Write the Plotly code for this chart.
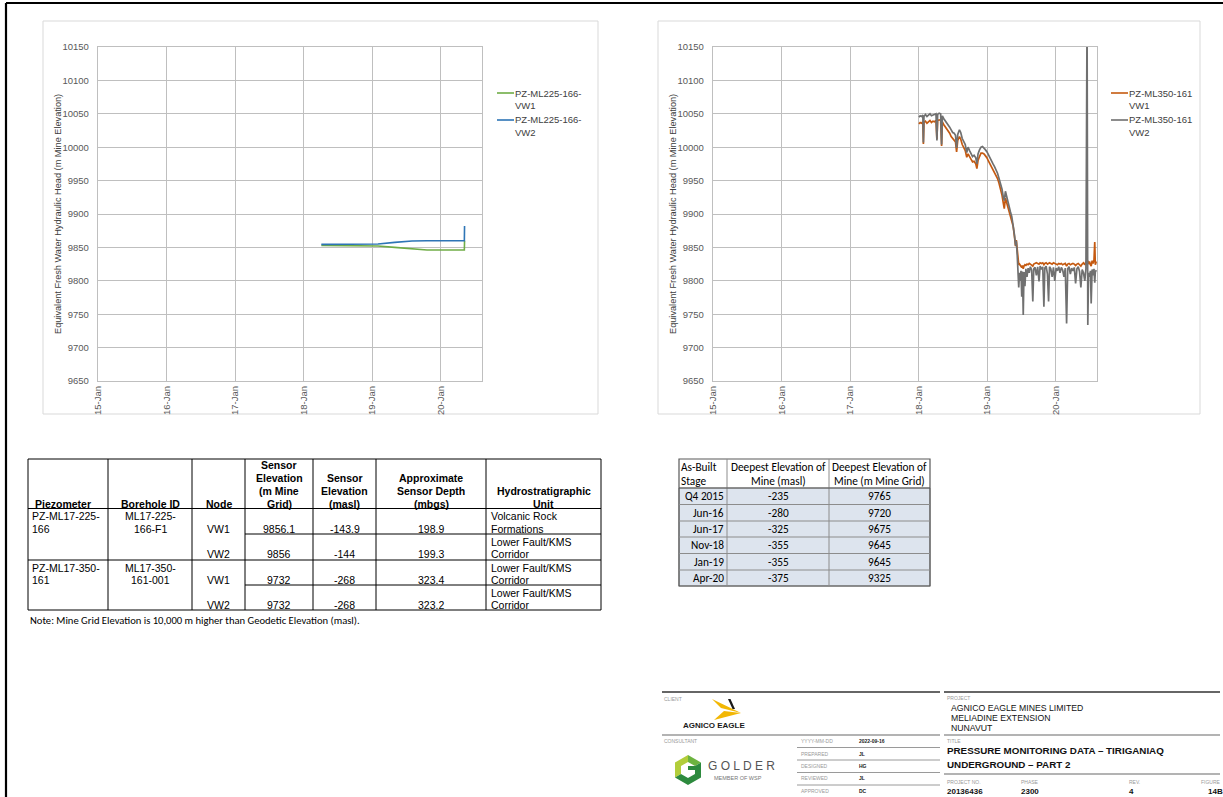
import plotly.graph_objects as go

W, H = 1223, 797
ARIAL = "Arial, 'Liberation Sans', sans-serif"
CALIBRI = "Calibri, Carlito, Lato, sans-serif"

GREEN = "#70ad47"
BLUE = "#2e75b6"
ORANGE = "#c55a11"
GREY = "#707070"
GRID = "#bfbfbf"
TICK = "#595959"

# ---------------- piezometer PZ-ML225-166 ----------------
ml225_dates = ["2018-04-05", "2019-02-01", "2019-05-01", "2019-08-01",
               "2019-10-20", "2020-05-06", "2020-05-07"]
ml225_vw1 = [9853, 9852, 9850, 9847.5, 9846, 9846, 9860]
ml225_vw2 = [9854.5, 9855, 9857.5, 9859.5, 9860, 9860, 9882]

# ---------------- piezometer PZ-ML350-161 ----------------
ml350_dates = [
    "2018-01-02", "2018-01-09", "2018-01-16", "2018-01-23", "2018-01-26", "2018-01-29",
    "2018-02-06", "2018-02-14", "2018-02-22", "2018-03-02", "2018-03-10", "2018-03-18",
    "2018-03-26", "2018-04-03", "2018-04-08", "2018-04-12", "2018-04-20", "2018-04-28",
    "2018-05-03", "2018-05-07", "2018-05-14", "2018-05-22", "2018-05-30", "2018-06-07",
    "2018-06-15", "2018-06-23", "2018-07-01", "2018-07-09", "2018-07-16", "2018-07-22",
    "2018-07-28", "2018-08-06", "2018-08-13", "2018-08-21", "2018-08-29", "2018-09-06",
    "2018-09-14", "2018-09-21", "2018-09-29", "2018-10-07", "2018-10-15", "2018-10-23",
    "2018-11-01", "2018-11-07", "2018-11-13", "2018-11-21", "2018-11-29", "2018-12-07",
    "2018-12-15", "2018-12-23", "2018-12-31", "2019-01-08", "2019-01-16", "2019-01-24",
    "2019-02-01", "2019-02-09", "2019-02-17", "2019-02-25", "2019-03-05", "2019-03-13",
    "2019-03-21", "2019-03-28", "2019-04-02", "2019-04-08", "2019-04-14", "2019-04-21",
    "2019-04-28", "2019-05-05", "2019-05-12", "2019-05-19", "2019-05-26", "2019-06-01",
    "2019-06-05", "2019-06-10", "2019-06-14", "2019-06-18", "2019-06-22", "2019-06-26",
    "2019-06-30", "2019-07-04", "2019-07-08", "2019-07-12", "2019-07-16", "2019-07-21",
    "2019-07-26", "2019-08-01", "2019-08-07", "2019-08-13", "2019-08-19", "2019-08-26",
    "2019-09-01", "2019-09-06", "2019-09-13", "2019-09-20", "2019-09-27", "2019-10-04",
    "2019-10-10", "2019-10-17", "2019-10-24", "2019-10-30", "2019-11-04", "2019-11-11",
    "2019-11-18", "2019-11-24", "2019-11-29", "2019-12-06", "2019-12-13", "2019-12-20",
    "2019-12-27", "2020-01-03", "2020-01-10", "2020-01-17", "2020-01-24", "2020-01-31",
    "2020-02-07", "2020-02-14", "2020-02-21", "2020-02-28", "2020-03-05", "2020-03-12",
    "2020-03-19", "2020-03-26", "2020-04-02", "2020-04-09", "2020-04-16", "2020-04-23",
    "2020-04-30", "2020-05-07", "2020-05-14", "2020-05-21", "2020-05-28", "2020-06-04",
    "2020-06-10", "2020-06-16", "2020-06-20", "2020-06-24", "2020-06-29", "2020-07-04",
    "2020-07-08", "2020-07-13", "2020-07-18", "2020-07-23", "2020-07-27", "2020-07-30",
    "2020-08-04",
]
ml350_vw1 = [
    10035, 10037, 10036, 10038, 10005, 10037,
    10039, 10036, 10038, 10040, 10037, 10039,
    10038, 10040, 10012, 10040, 10041, 10040,
    10002, 10038, 10034, 10031, 10027, 10024,
    10021, 10016, 10013, 10011, 10008, 9993,
    10010, 10016, 10012, 10004, 9999, 9995,
    9985, 9990, 9986, 9982, 9978, 9979,
    9975, 9968, 9980, 9986, 9991, 9991,
    9990, 9987, 9984, 9979, 9975, 9970,
    9966, 9962, 9958, 9953, 9946, 9938,
    9928, 9916, 9908, 9924, 9918, 9910,
    9904, 9898, 9892, 9882, 9867, 9852,
    9861, 9842, 9826, 9824, 9825, 9823,
    9822, 9820, 9823, 9818, 9822, 9824,
    9823, 9825, 9824, 9826, 9825, 9824,
    9822, 9825, 9826, 9827, 9826, 9825,
    9827, 9826, 9827, 9824, 9826, 9827,
    9825, 9826, 9827, 9826, 9825, 9827,
    9826, 9825, 9824, 9826, 9825, 9826,
    9824, 9825, 9826, 9822, 9825, 9826,
    9824, 9825, 9826, 9825, 9823, 9825,
    9826, 9824, 9822, 9825, 9827, 9824,
    9828, 9826, 9830, 9825, 9829, 9824,
    9822, 9830, 9826, 9831, 9858, 9824,
    9829,
]
ml350_vw2 = [
    10045, 10047, 10046, 10048, 10007, 10046,
    10049, 10046, 10048, 10050, 10047, 10048,
    10049, 10050, 10010, 10049, 10051, 10050,
    10004, 10047, 10043, 10040, 10036, 10033,
    10030, 10026, 10022, 10021, 10018, 9999,
    10019, 10026, 10022, 10013, 10008, 10004,
    9992, 10000, 9995, 9991, 9986, 9988,
    9984, 9975, 9990, 9996, 10000, 10001,
    9999, 9996, 9993, 9988, 9984, 9979,
    9975, 9971, 9967, 9961, 9953, 9946,
    9937, 9925, 9920, 9934, 9926, 9917,
    9909, 9903, 9896, 9885, 9869, 9853,
    9860, 9838, 9818, 9790, 9812, 9800,
    9815, 9776, 9814, 9749, 9813, 9792,
    9818, 9806, 9819, 9812, 9821, 9816,
    9769, 9818, 9820, 9808, 9821, 9799,
    9822, 9817, 9821, 9761, 9819, 9822,
    9810, 9769, 9821, 9818, 9806, 9820,
    9800, 9819, 9815, 9821, 9812, 9820,
    9816, 9806, 9819, 9736, 9818, 9821,
    9810, 9819, 9815, 9820, 9796, 9818,
    9821, 9814, 9790, 9817, 9812, 9800,
    9818, 10200, 9734, 9812, 9806, 9815,
    9766, 9817, 9808, 9818, 9797, 9813,
    9816,
]

# ---------------- sensor summary table ----------------
sensor_headers = [["Piezometer"], ["Borehole ID"], ["Node"],
                  ["Sensor", "Elevation", "(m Mine", "Grid)"],
                  ["Sensor", "Elevation", "(masl)"],
                  ["Approximate", "Sensor Depth", "(mbgs)"],
                  ["Hydrostratigraphic", "Unit"]]
piezometers = [["PZ-ML17-225-", "166"], ["PZ-ML17-350-", "161"]]
boreholes = [["ML17-225-", "166-F1"], ["ML17-350-", "161-001"]]
nodes = ["VW1", "VW2", "VW1", "VW2"]
elev_grid = ["9856.1", "9856", "9732", "9732"]
elev_masl = ["-143.9", "-144", "-268", "-268"]
sensor_depth = ["198.9", "199.3", "323.4", "323.2"]
hydro_units = [["Volcanic Rock", "Formations"], ["Lower Fault/KMS", "Corridor"],
               ["Lower Fault/KMS", "Corridor"], ["Lower Fault/KMS", "Corridor"]]
table_note = "Note: Mine Grid Elevation is 10,000 m higher than Geodetic Elevation (masl)."

# ---------------- mine depth table ----------------
stage_headers = [["As-Built", "Stage"], ["Deepest Elevation of", "Mine (masl)"],
                 ["Deepest Elevation of", "Mine (m Mine Grid)"]]
stages = ["Q4 2015", "Jun-16", "Jun-17", "Nov-18", "Jan-19", "Apr-20"]
deepest_masl = ["-235", "-280", "-325", "-355", "-355", "-375"]
deepest_grid = ["9765", "9720", "9675", "9645", "9645", "9325"]


def fx(x):
    return x / W


def fy(y):
    return 1 - y / H


shapes = []
annotations = []


def line(x0, y0, x1, y1, color="#000", width=1):
    shapes.append(dict(type="line", xref="paper", yref="paper",
                       x0=fx(x0), y0=fy(y0), x1=fx(x1), y1=fy(y1),
                       line=dict(color=color, width=width)))


def rect(x0, y0, x1, y1, color, width=1, fill="rgba(0,0,0,0)"):
    shapes.append(dict(type="rect", xref="paper", yref="paper",
                       x0=fx(x0), y0=fy(y0), x1=fx(x1), y1=fy(y1),
                       line=dict(color=color, width=width), fillcolor=fill,
                       layer="below"))


def poly(points, fill):
    path = "M " + " L ".join(f"{fx(x):.5f},{fy(y):.5f}" for x, y in points) + " Z"
    shapes.append(dict(type="path", xref="paper", yref="paper", path=path,
                       fillcolor=fill, line=dict(width=0)))


def text(x, y, s, size, color="#000", anchor="left", bold=False, family=ARIAL, angle=0):
    if bold:
        s = f"<b>{s}</b>"
    annotations.append(dict(xref="paper", yref="paper", x=fx(x), y=fy(y), text=s,
                            showarrow=False, xanchor=anchor, yanchor="middle",
                            borderpad=0, textangle=angle,
                            font=dict(size=size, color=color, family=family)))


fig = go.Figure()

fig.add_trace(go.Scatter(x=ml225_dates, y=ml225_vw1, mode="lines", name="PZ-ML225-166-VW1",
                         line=dict(color=GREEN, width=1.6), xaxis="x", yaxis="y"))
fig.add_trace(go.Scatter(x=ml225_dates, y=ml225_vw2, mode="lines", name="PZ-ML225-166-VW2",
                         line=dict(color=BLUE, width=1.6), xaxis="x", yaxis="y"))
fig.add_trace(go.Scatter(x=ml350_dates, y=ml350_vw1, mode="lines", name="PZ-ML350-161 VW1",
                         line=dict(color=ORANGE, width=1.7), xaxis="x2", yaxis="y2"))
fig.add_trace(go.Scatter(x=ml350_dates, y=ml350_vw2, mode="lines", name="PZ-ML350-161 VW2",
                         line=dict(color=GREY, width=1.7), xaxis="x2", yaxis="y2"))


def xaxis(left, right, anchor):
    return dict(domain=[fx(left), fx(right)], anchor=anchor, type="date",
                range=["2015-01-01", "2020-08-08"], tick0="2015-01-01", dtick="M12",
                tickformat="%y-%b", tickangle=-90, ticks="", showgrid=True,
                gridcolor=GRID, gridwidth=1.4, showline=True, mirror=True,
                linecolor=GRID, linewidth=1.4, zeroline=False,
                tickfont=dict(size=9.5, color=TICK, family=ARIAL))


def yaxis(anchor):
    return dict(domain=[fy(381), fy(47)], anchor=anchor, range=[9650, 10150], dtick=50,
                tickformat="d", ticks="", showgrid=True, gridcolor=GRID, gridwidth=1.4,
                showline=True, mirror=True, linecolor=GRID, linewidth=1.4,
                zeroline=False, ticklabelstandoff=6,
                tickfont=dict(size=9.5, color=TICK, family=ARIAL))


YTITLE = "Equivalent Fresh Water Hydraulic Head (m Mine Elevation)"

# page frame and chart frames
line(6, 3, W, 3, "#000", 2)
line(6, 3, 6, H, "#000", 2.2)
rect(43, 21, 598, 414, "#d9d9d9", 1)
rect(658, 21, 1200, 414, "#d9d9d9", 1)

# axis titles
text(58, 214, YTITLE, 9.2, "#404040", "center", angle=-90)
text(673, 214, YTITLE, 9.2, "#404040", "center", angle=-90)

# legends
legend_items = [(497, 93, GREEN, "PZ-ML225-166-", "VW1"),
                (497, 120, BLUE, "PZ-ML225-166-", "VW2"),
                (1111, 93, ORANGE, "PZ-ML350-161", "VW1"),
                (1111, 120, GREY, "PZ-ML350-161", "VW2")]
for lx, ly, col, l1, l2 in legend_items:
    line(lx, ly, lx + 17, ly, col, 1.6)
    text(lx + 17, ly, l1, 9.5, "#404040")
    text(lx + 17, ly + 12, l2, 9.5, "#404040")

# ---------------- sensor summary table ----------------
cols = [28, 108, 192, 245, 313, 376, 486, 601]
rows = [459, 508.5, 534, 560, 585, 610]
rect(cols[0], rows[0], cols[-1], rows[-1], "#000", 1)
for c in cols[1:-1]:
    line(c, rows[0], c, rows[-1], "#000", 1)
line(cols[0], rows[1], cols[-1], rows[1], "#000", 1)
line(cols[0], rows[3], cols[-1], rows[3], "#000", 1)
line(cols[3], rows[2], cols[-1], rows[2], "#000", 1)
line(cols[3], rows[4], cols[-1], rows[4], "#000", 1)

for i, hdr in enumerate(sensor_headers):
    n = len(hdr)
    for j, s in enumerate(hdr):
        yy = 504 - 12.9 * (n - 1 - j)
        if i == 0:
            text(cols[0] + 6, yy, s, 10.5, bold=True)
        else:
            text((cols[i] + cols[i + 1]) / 2, yy, s, 10.5, anchor="center", bold=True)

for r in range(4):
    top = rows[r + 1]
    l1, l2 = top + 7.5, top + 20
    if r % 2 == 0:
        p = piezometers[r // 2]
        b = boreholes[r // 2]
        text(cols[0] + 3, l1, p[0], 10.5)
        text(cols[0] + 3, l2, p[1], 10.5)
        text((cols[1] + cols[2]) / 2, l1, b[0], 10.5, anchor="center")
        text((cols[1] + cols[2]) / 2, l2, b[1], 10.5, anchor="center")
    text((cols[2] + cols[3]) / 2, l2, nodes[r], 10.5, anchor="center")
    text((cols[3] + cols[4]) / 2, l2, elev_grid[r], 10.5, anchor="center")
    text((cols[4] + cols[5]) / 2, l2, elev_masl[r], 10.5, anchor="center")
    text((cols[5] + cols[6]) / 2, l2, sensor_depth[r], 10.5, anchor="center")
    text(cols[6] + 4, l1, hydro_units[r][0], 10.5)
    text(cols[6] + 4, l2, hydro_units[r][1], 10.5)

text(29, 620, table_note, 10.6, family=CALIBRI)

# ---------------- mine depth table ----------------
tcols = [679, 727, 829, 930]
trows = [459, 488, 504.5, 521, 537, 553.5, 570, 586]
rect(tcols[0], trows[1], tcols[-1], trows[-1], "#8c8c8c", 1, fill="#dde4ee")
for c in tcols[1:-1]:
    line(c, trows[0], c, trows[-1], "#8c8c8c", 1)
for rr in trows[2:-1]:
    line(tcols[0], rr, tcols[-1], rr, "#8c8c8c", 1)
rect(tcols[0], trows[0], tcols[-1], trows[-1], "#595959", 1.2)
line(tcols[0], trows[1], tcols[-1], trows[1], "#595959", 1)

TS = 11.3
text(tcols[0] + 1, 467, stage_headers[0][0], TS, family=CALIBRI)
text(tcols[0] + 1, 481, stage_headers[0][1], TS, family=CALIBRI)
for i in (1, 2):
    cx = (tcols[i] + tcols[i + 1]) / 2
    text(cx, 467, stage_headers[i][0], TS, anchor="center", family=CALIBRI)
    text(cx, 481, stage_headers[i][1], TS, anchor="center", family=CALIBRI)
for k in range(6):
    cy = (trows[k + 1] + trows[k + 2]) / 2
    text(tcols[1] - 2, cy, stages[k], TS, anchor="right", family=CALIBRI)
    text((tcols[1] + tcols[2]) / 2, cy, deepest_masl[k], TS, anchor="center", family=CALIBRI)
    text((tcols[2] + tcols[3]) / 2, cy, deepest_grid[k], TS, anchor="center", family=CALIBRI)

# ---------------- title block ----------------
LBL = "#9a9a9a"
line(662, 692, 940, 692, "#333", 1.6)
line(944, 692, 1220, 692, "#333", 1.6)
line(662, 735, 940, 735, "#9a9a9a", 1.3)
line(944, 735, 1220, 735, "#9a9a9a", 1.3)
line(944, 774, 1220, 774, "#9a9a9a", 1.3)
for yy in (747.5, 760, 772.5, 785):
    line(797, yy, 940, yy, "#9a9a9a", 1)

text(663, 699, "CLIENT", 5, LBL)
text(663, 741, "CONSULTANT", 5, LBL)
text(946, 698, "PROJECT", 5, LBL)
text(946, 741, "TITLE", 5, LBL)

# client mark
poly([(712, 699), (741, 713), (721, 708)], "#f2b705")
poly([(714, 720), (741, 713), (724, 711)], "#f2b705")
poly([(728, 699), (730.5, 699), (735, 709), (732.5, 709)], "#1a1a1a")
text(713.5, 725, "AGNICO EAGLE", 8, "#1a1a1a", "center", bold=True)

# consultant mark
poly([(688, 755), (675, 762.5), (675, 777.5), (681, 774), (681, 766), (688, 762)], "#b2cd3a")
poly([(688, 755), (701, 762.5), (695, 766), (688, 762)], "#6cb33f")
poly([(701, 762.5), (701, 777.5), (688, 785), (675, 777.5), (681, 774),
      (688, 778), (695, 774), (695, 770), (688, 770), (688, 766), (695, 766)], "#2d8a3e")
text(741.5, 766, "G O L D E R", 12, "#555", "center")
text(737.5, 778, "MEMBER OF WSP", 5.5, "#777", "center")

meta = [("YYYY-MM-DD", "2022-09-16", 741), ("PREPARED", "JL", 754),
        ("DESIGNED", "HG", 766), ("REVIEWED", "JL", 778), ("APPROVED", "DC", 791)]
for lbl, val, yy in meta:
    text(800, yy, lbl, 5, LBL)
    text(858, yy, val, 5, "#222", bold=True)

for k, s in enumerate(["AGNICO EAGLE MINES LIMITED", "MELIADINE EXTENSION", "NUNAVUT"]):
    text(950, 708 + 10 * k, s, 8.7, "#111")
text(946, 750.5, "PRESSURE MONITORING DATA – TIRIGANIAQ", 9.8, "#111", bold=True)
text(946, 764, "UNDERGROUND – PART 2", 9.8, "#111", bold=True)

foot = [(946, "PROJECT NO.", "20136436"), (1020, "PHASE", "2300"),
        (1128, "REV.", "4"), (1200, "FIGURE", "14B")]
for xx, lbl, val in foot:
    text(xx, 782, lbl, 5, LBL)
    text(xx + (7 if lbl == "FIGURE" else 0), 791, val, 8, "#111", bold=True)

fig.update_layout(
    width=W, height=H, margin=dict(l=0, r=0, t=0, b=0, autoexpand=False),
    paper_bgcolor="white", plot_bgcolor="white", showlegend=False,
    font=dict(family=ARIAL),
    xaxis=xaxis(98, 482, "y"), yaxis=yaxis("x"),
    xaxis2=xaxis(713, 1097, "y2"), yaxis2=yaxis("x2"),
    shapes=shapes, annotations=annotations,
)

fig.write_html("out.html")
